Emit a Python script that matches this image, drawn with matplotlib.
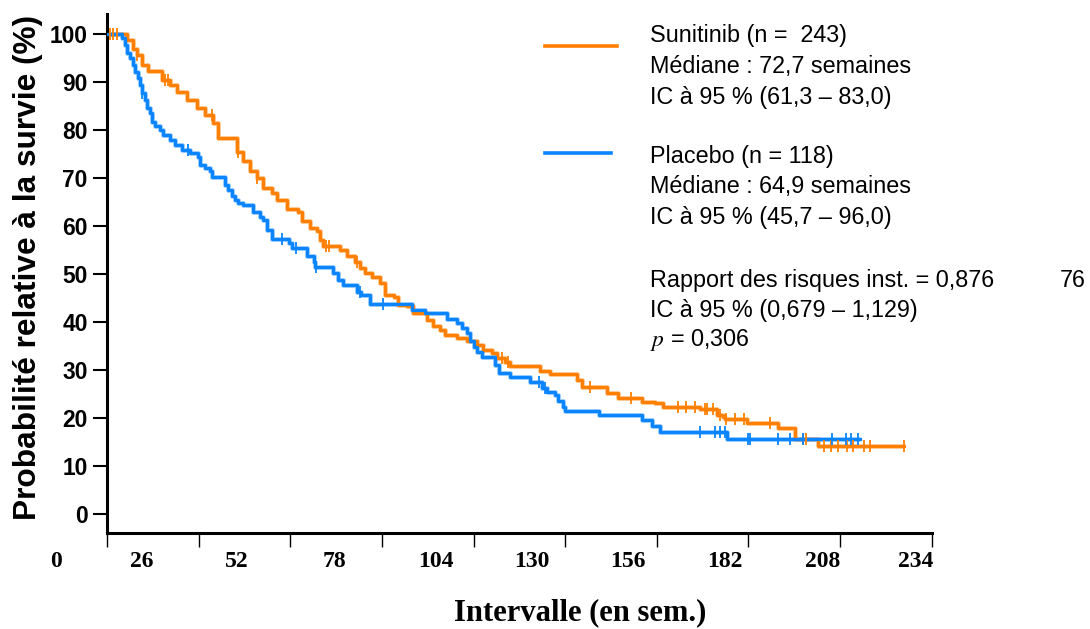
import matplotlib
matplotlib.use('Agg')
import matplotlib.pyplot as plt
import matplotlib.transforms as mtransforms
from matplotlib.lines import Line2D
import numpy as np

plt.rcParams['font.family'] = ['Liberation Sans', 'DejaVu Sans']
plt.rcParams['mathtext.fontset'] = 'stix'

# ---------------- data ----------------
# Sunitinib Kaplan-Meier steps (weeks, % survival after the step)
sun_t = [0, 3.7, 5.6, 7.5, 8.4, 9.8, 11.7, 15.5, 17.9, 19.8, 22.6, 25.5, 27.8, 30.2, 31.6,
         36.8, 38.7, 40.6, 42.5, 44.4, 46.7, 48.2, 51.0, 54.3, 55.3, 57.6, 59.5, 60.5, 61.4,
         66.1, 68.0, 70.4, 71.8, 73.2, 75.1, 77.5, 78.9, 81.3, 82.7, 85.1, 86.9, 90.7, 92.5,
         94.5, 95.9, 99.3, 102.1, 104.9, 106.8, 109.2, 110.6, 113.0, 114.4, 122.9, 125.7,
         133.3, 134.7, 141.8, 145.1, 151.8, 155.5, 157.9, 168.3, 173.1, 174.9, 175.4, 181.6,
         190.5, 195.3, 201.6, 226.0]
sun_s = [100, 100, 98.8, 97.0, 95.7, 93.6, 92.4, 90.5, 89.4, 88.0, 86.3, 84.6, 83.2, 81.5, 78.3,
         75.5, 73.5, 71.4, 70.0, 67.9, 66.9, 65.5, 63.6, 63.0, 61.0, 59.6, 58.9, 57.1, 55.9,
         55.1, 53.7, 52.6, 51.3, 50.2, 49.5, 48.1, 45.7, 45.3, 43.6, 43.3, 41.9, 40.5, 39.2,
         38.4, 37.4, 36.7, 36.0, 35.3, 34.2, 33.5, 32.5, 31.8, 30.8, 29.9, 29.2,
         28.0, 26.6, 25.2, 24.2, 23.3, 23.1, 22.4, 21.9, 20.7, 20.3, 19.8, 19.1,
         17.9, 15.6, 14.2, 14.2]
sun_cens = [0.9, 1.7, 2.8, 8.5, 16.5, 17.3, 29.7, 37.2, 42.5, 62.0, 63.0, 70.9, 112.0, 113.8,
            137.1, 148.6, 162.1, 164.3, 166.9, 169.7, 170.3, 172.0, 174.0, 175.7, 178.3, 180.8,
            188.2, 197.5, 198.4, 203.5, 205.4, 207.3, 210.0, 211.8, 214.7, 216.6, 226.0]

# Placebo Kaplan-Meier steps
pla_t = [0, 3.2, 4.2, 5.1, 5.6, 6.5, 7.5, 7.9, 8.9, 9.4, 9.8, 10.8, 11.3, 12.2, 12.7, 13.6,
         15.0, 16.0, 17.9, 19.3, 21.2, 23.6, 25.9, 26.4, 27.8, 29.2, 29.7, 33.5, 34.4, 35.4,
         36.3, 37.3, 38.6, 41.5, 43.4, 44.4, 45.3, 46.7, 51.5, 52.4, 56.7, 58.6, 59.0, 64.2,
         65.6, 67.1, 70.9, 72.1, 74.6, 86.5, 90.3, 96.4, 99.3, 100.7, 102.1, 103.0, 104.0,
         104.9, 106.4, 110.1, 111.1, 114.4, 120.1, 123.4, 124.8, 127.2, 128.1, 129.5, 130.0,
         139.5, 151.8, 154.6, 157.0, 175.9, 213.7]
pla_s = [100, 100, 99.2, 97.8, 96.0, 95.0, 93.6, 92.2, 90.8, 89.4, 87.7, 86.3, 84.6, 83.5, 81.8, 80.8,
         80.1, 79.0, 78.0, 77.0, 75.9, 75.2, 74.5, 72.8, 72.1, 71.4, 70.3, 68.6, 67.6, 66.2,
         65.5, 64.8, 64.4, 63.0, 62.0, 61.3, 59.2, 57.3, 56.5, 55.4, 53.7, 52.6, 51.6, 50.2,
         48.8, 47.8, 46.4, 45.7, 43.8, 42.6, 41.9, 40.6, 39.8, 38.8, 37.7, 36.0, 34.9,
         33.9, 32.8, 31.1, 29.5, 28.5, 27.6, 26.2, 25.5, 24.9, 23.5, 22.4, 21.6,
         20.7, 19.6, 18.4, 17.2, 15.6, 15.6]
pla_cens = [9.9, 23.1, 49.6, 53.6, 59.2, 71.8, 78.4, 122.6, 124.3, 168.3, 172.6, 174.0, 175.4,
            182.0, 182.5, 190.3, 193.9, 197.6, 205.7, 209.8, 211.1, 213.2]

xticks = [0, 26, 52, 78, 104, 130, 156, 182, 208, 234]
xtick_labels = ['0', '26', '52', '78', '104', '130', '156', '182', '208', '234']
# the printed labels sit offset from their tick marks in the original
xtick_label_pos = [-14.5, 9.8, 36.9, 64.4, 93.4, 120.5, 147.9, 175.3, 203.1, 229.5]
yticks = [0, 10, 20, 30, 40, 50, 60, 70, 80, 90, 100]

legend_lines = [
    ('Sunitinib (n =  243)', 42.3),
    ('Médiane : 72,7 semaines', 73.5),
    ('IC à 95 % (61,3 – 83,0)', 104.0),
    ('Placebo (n = 118)', 163.0),
    ('Médiane : 64,9 semaines', 193.5),
    ('IC à 95 % (45,7 – 96,0)', 224.0),
    ('Rapport des risques inst. = 0,876', 286.7),
    ('IC à 95 % (0,679 – 1,129)', 317.0),
    ('$p$ = 0,306', 346.0),
]

ORANGE = '#FF8000'
BLUE = '#0A85FF'

W, H = 1090, 629
fig = plt.figure(figsize=(W / 100, H / 100), dpi=100)


def fx(px):
    return px / W


def fy(py):
    return 1 - py / H


ax = fig.add_axes([fx(107), fy(533), fx(931.7) - fx(107), fy(14) - fy(533)])


def step_val(ts, ss, t):
    i = np.searchsorted(ts, t, side='right') - 1
    return ss[max(i, 0)]


for ts, ss, cens, col in [(sun_t, sun_s, sun_cens, ORANGE), (pla_t, pla_s, pla_cens, BLUE)]:
    ax.plot(ts, ss, drawstyle='steps-post', color=col, lw=3.6, alpha=0.35,
            solid_capstyle='butt', zorder=2)
    ax.plot(ts, ss, drawstyle='steps-post', color=col, lw=2.3, zorder=3)
    cy = [step_val(ts, ss, c) for c in cens]
    ax.plot(cens, cy, ls='none', marker='|', ms=8, mew=1.3, color=col, zorder=4)

ax.set_xlim(0, 234)
ax.set_ylim(-3.9, 104.2)
ax.set_xticks(xticks)
ax.set_xticklabels([''] * len(xticks))
ax.set_yticks(yticks)
ax.set_yticklabels([str(v) for v in yticks], fontsize=16.4, fontweight='bold')

for s in ['top', 'right']:
    ax.spines[s].set_visible(False)
for s in ['left', 'bottom']:
    ax.spines[s].set_linewidth(2.2)
ax.tick_params(axis='y', direction='out', length=10, width=1.5, pad=4)
ax.tick_params(axis='x', direction='out', length=10, width=1.0)

trans = mtransforms.blended_transform_factory(ax.transData, ax.transAxes)
for lab, pos in zip(xtick_labels, xtick_label_pos):
    ax.text(pos, -0.0555, lab, transform=trans, ha='center', va='center',
            fontsize=17, fontweight='bold', family='Liberation Serif', clip_on=False)

fig.text(fx(28), fy(267.5), 'Probabilité relative à la survie (%)', rotation=90,
         ha='center', va='center', fontsize=22.8, fontweight='bold')
fig.text(fx(580), fy(613), 'Intervalle (en sem.)', ha='center', va='center',
         fontsize=22, fontweight='bold', family='Liberation Serif')

for txt, base in legend_lines:
    fig.text(fx(650), fy(base), txt, ha='left', va='baseline', fontsize=16.8)
fig.text(fx(1060), fy(286.7), '76', ha='left', va='baseline', fontsize=16.8)

fig.add_artist(Line2D([fx(545), fx(617)], [fy(45.9)] * 2, color=ORANGE, lw=2.6,
                      transform=fig.transFigure))
fig.add_artist(Line2D([fx(545), fx(611)], [fy(153.4)] * 2, color=BLUE, lw=2.6,
                      transform=fig.transFigure))

fig.savefig('out.png', dpi=100)
